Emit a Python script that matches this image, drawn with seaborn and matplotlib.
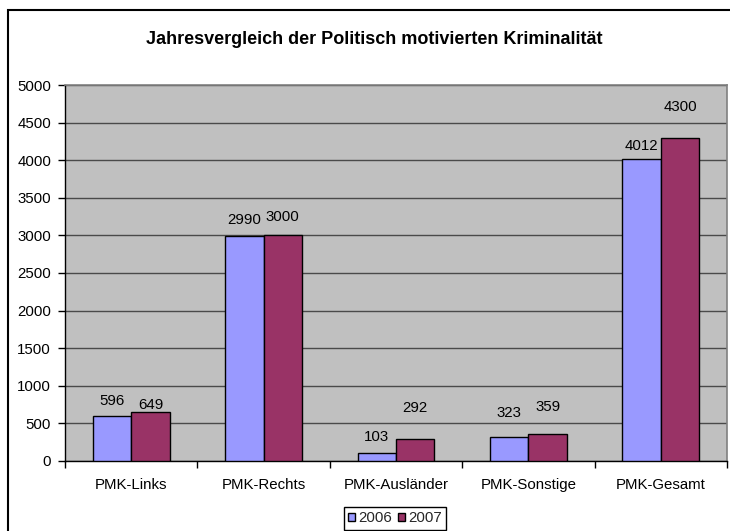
import matplotlib
matplotlib.use("Agg")
import matplotlib.pyplot as plt
import seaborn as sns
import pandas as pd
from matplotlib.patches import Rectangle

categories = ["PMK-Links", "PMK-Rechts", "PMK-Ausländer", "PMK-Sonstige", "PMK-Gesamt"]
years = ["2006", "2007"]
values_2006 = [596, 2990, 103, 323, 4012]
values_2007 = [649, 3000, 292, 359, 4300]
title = "Jahresvergleich der Politisch motivierten Kriminalität"
yticks = [0, 500, 1000, 1500, 2000, 2500, 3000, 3500, 4000, 4500, 5000]

# label offsets above bar top (pixels), as in the reference
label_off_2006 = [15, 16, 16, 24, 13]
label_off_2007 = [7, 18, 31, 27, 31]

df = pd.DataFrame({
    "Kategorie": categories * 2,
    "Jahr": [years[0]] * len(categories) + [years[1]] * len(categories),
    "Wert": values_2006 + values_2007,
})

sns.set_theme(style="white")
plt.rcParams["font.family"] = ["Liberation Sans", "DejaVu Sans"]

W, H = 730, 531
fig = plt.figure(figsize=(W / 100, H / 100), dpi=100)
fig.patch.set_facecolor("white")
ax = fig.add_axes([65 / W, (H - 461) / H, (727 - 65) / W, (461 - 85) / H])

palette = {"2006": "#9999FF", "2007": "#993366"}
sns.barplot(data=df, x="Kategorie", y="Wert", hue="Jahr", order=categories,
            hue_order=years, palette=palette, width=0.58, saturation=1,
            edgecolor="black", linewidth=1.0, ax=ax, legend=True, zorder=3)

ax.set_facecolor("#C0C0C0")
ax.set_xlim(-0.5, len(categories) - 0.5)
ax.set_ylim(0, 5000)
ax.set_yticks(yticks)
ax.set_yticklabels([str(t) for t in yticks], fontsize=10.8, color="black")
ax.yaxis.grid(True, color="#4a4a4a", linewidth=1.0, zorder=0)
ax.set_axisbelow(True)
ax.set_xlabel("")
ax.set_ylabel("")

# x ticks: labels at centers, tick marks at category boundaries
ax.set_xticks(range(len(categories)))
ax.set_xticklabels(categories, fontsize=10.8, color="black")
ax.tick_params(axis="x", which="major", length=0, pad=12)
ax.set_xticks([i - 0.5 for i in range(len(categories) + 1)], minor=True)
ax.tick_params(axis="x", which="minor", length=5, width=1, color="black", direction="out", bottom=True)
ax.tick_params(axis="y", which="major", length=5, width=1, color="black", direction="out", left=True, pad=5)

for side in ["top", "right"]:
    ax.spines[side].set_color("#808080")
    ax.spines[side].set_linewidth(1.2)
for side in ["left", "bottom"]:
    ax.spines[side].set_color("black")
    ax.spines[side].set_linewidth(1.0)

# data labels
containers = ax.containers
for cont, vals, offs in zip(containers, [values_2006, values_2007], [label_off_2006, label_off_2007]):
    for bar, v, o in zip(cont, vals, offs):
        ax.annotate(str(v), (bar.get_x() + bar.get_width() / 2, bar.get_height()),
                    xytext=(0, o), textcoords="offset pixels",
                    ha="center", va="center", fontsize=10.8, color="black", zorder=5)

# legend
leg = ax.get_legend()
handles, labels = ax.get_legend_handles_labels()
leg.remove()
fig.legend(handles, labels, loc="upper center", bbox_to_anchor=(395 / W, (H - 507) / H),
           ncol=2, frameon=True, fancybox=False, fontsize=10.8, handlelength=0.46,
           handleheight=0.46, handletextpad=0.2, columnspacing=0.4, borderpad=0.3,
           borderaxespad=0, edgecolor="black", framealpha=1)
fig.legends[0].get_frame().set_linewidth(1.0)

fig.text(374 / W, (H - 40) / H, title, ha="center", va="center",
         fontsize=13, fontweight="bold", color="black")

# figure border
fig.patches.append(Rectangle((8 / W, -0.1), 1.2, (H - 10) / H + 0.1,
                             transform=fig.transFigure, fill=False,
                             edgecolor="black", linewidth=1.5, zorder=10))

fig.savefig("out.png", dpi=100)
